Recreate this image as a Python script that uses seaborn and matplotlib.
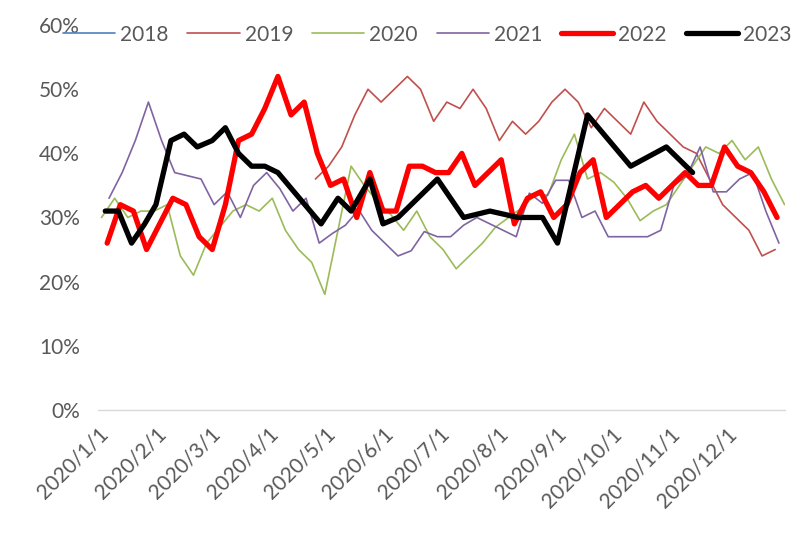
import pandas as pd
import numpy as np
import matplotlib
matplotlib.use("Agg")
import matplotlib.pyplot as plt
from matplotlib.ticker import PercentFormatter
import seaborn as sns

# weekly series, each year laid on the 2020 calendar
start_2019 = "2020-04-26"
start_2020 = "2020-01-03"
start_2021 = "2020-01-07"
start_2022 = "2020-01-06"

v2018 = []
v2019 = [36, 38, 41, 46, 50, 48, 50, 52, 50, 45, 48, 47, 50, 47, 42, 45, 43, 45,
         48, 50, 48, 44, 47, 45, 43, 48, 45, 43, 41, 40, 36, 32, 30, 28, 24, 25]
v2020 = [30, 33, 30, 31, 31, 32, 24, 21, 26, 28.5, 31, 32, 31, 33, 28, 25, 23, 18,
         28, 38, 35, 32.5, 30.5, 28, 31, 27, 25, 22, 24, 26, 28.5, 30, 31.5, 33.5,
         33.5, 39, 43, 36, 37, 35.5, 33, 29.5, 31, 32, 35, 38, 41, 40, 42, 39, 41,
         36, 32]
v2021 = [33, 37, 42, 48, 42, 37, 36.5, 36, 32, 34, 30, 35, 37, 34.5, 31, 33, 26,
         27.5, 28.8, 31.2, 28, 26, 24, 24.8, 27.8, 27, 27, 28.8, 30, 29, 28, 27,
         33.8, 32.2, 35.8, 35.8, 30, 31, 27, 27, 27, 27, 28, 35, 36.5, 41, 34, 34,
         36, 37, 31, 26]
v2022 = [26, 32, 31, 25, 29, 33, 32, 27, 25, 32, 42, 43, 47, 52, 46, 48, 40, 35,
         36, 30, 37, 31, 31, 38, 38, 37, 37, 40, 35, 37, 39, 29, 33, 34, 30, 32,
         37, 39, 30, 32, 34, 35, 33, 35, 37, 35, 35, 41, 38, 37, 34, 30]

# 2023 has irregular dates
d2023 = ["2020-01-05", "2020-01-12", "2020-01-19", "2020-01-26", "2020-02-01",
         "2020-02-09", "2020-02-16", "2020-02-23", "2020-03-02", "2020-03-09",
         "2020-03-16", "2020-03-23", "2020-03-30", "2020-04-06", "2020-04-29",
         "2020-05-08", "2020-05-15", "2020-05-25", "2020-06-01", "2020-06-09",
         "2020-06-30", "2020-07-14", "2020-07-28", "2020-08-12", "2020-08-25",
         "2020-09-02", "2020-09-18", "2020-10-11", "2020-10-30", "2020-11-13"]
v2023 = [31, 31, 26, 29, 32, 42, 43, 41, 42, 44, 40, 38, 38, 37, 29, 33, 31, 36,
         29, 30, 36, 30, 31, 30, 30, 26, 46, 38, 41, 37]

years = ["2018", "2019", "2020", "2021", "2022", "2023"]
colors = ["#4F81BD", "#C0504D", "#9BBB59", "#8064A2", "#FF0000", "#000000"]
widths = [1.2, 1.2, 1.2, 1.2, 3.8, 3.8]


def weekly(start, vals):
    return pd.DataFrame({"date": pd.date_range(start, periods=len(vals), freq="7D"),
                         "value": np.array(vals, dtype=float) / 100})


frames = {
    "2019": weekly(start_2019, v2019),
    "2020": weekly(start_2020, v2020),
    "2021": weekly(start_2021, v2021),
    "2022": weekly(start_2022, v2022),
    "2023": pd.DataFrame({"date": pd.to_datetime(d2023),
                          "value": np.array(v2023, dtype=float) / 100}),
}

sns.set_style("white")
plt.rcParams['font.family'] = ['Lato', 'DejaVu Sans']

fig = plt.figure(figsize=(8.08, 5.35), dpi=100)
ax = fig.add_axes([0.121, 0.234, 0.850, 0.719])

for yr, col, lw in zip(years, colors, widths):
    if yr == "2018":
        # no data for 2018, only the legend entry
        ax.plot(pd.to_datetime(v2018), v2018, color=col, lw=lw, label=yr)
        continue
    sns.lineplot(data=frames[yr], x="date", y="value", ax=ax, color=col,
                 linewidth=lw, label=yr, solid_joinstyle="round",
                 solid_capstyle="round")

ax.set_xlim(pd.Timestamp("2020-01-01"), pd.Timestamp("2021-01-01"))
ax.set_ylim(0, 0.6)
ax.set_yticks(np.arange(0, 0.61, 0.1))
ax.yaxis.set_major_formatter(PercentFormatter(1.0, decimals=0))

month_ticks = pd.date_range("2020-01-01", "2021-01-01", freq="MS")
ax.set_xticks(month_ticks)
ax.set_xticklabels([f"2020/{d.month}/1" if d.year == 2020 else "" for d in month_ticks],
                   rotation=45, ha="right", rotation_mode="anchor")

ax.set_xlabel("")
ax.set_ylabel("")
for s in ["top", "right", "left"]:
    ax.spines[s].set_visible(False)
ax.spines["bottom"].set_color("#D9D9D9")
ax.spines["bottom"].set_linewidth(1.0)
ax.tick_params(axis="x", colors="#595959", labelsize=15, length=6, width=1.0,
               direction="out", pad=4)
ax.tick_params(axis="x", which="major", color="#D9D9D9")
ax.tick_params(axis="y", colors="#595959", labelsize=15, length=0, pad=13)
ax.grid(False)

handles, labels = ax.get_legend_handles_labels()
ax.get_legend().remove()
leg = fig.legend(handles, labels, loc="center left", bbox_to_anchor=(0.078, 0.935),
                 ncol=6, frameon=False, fontsize=15, handlelength=2.5,
                 handletextpad=0.25, columnspacing=0.9, borderaxespad=0,
                 borderpad=0)
for t in leg.get_texts():
    t.set_color("#595959")

fig.savefig("out.png", dpi=100)
